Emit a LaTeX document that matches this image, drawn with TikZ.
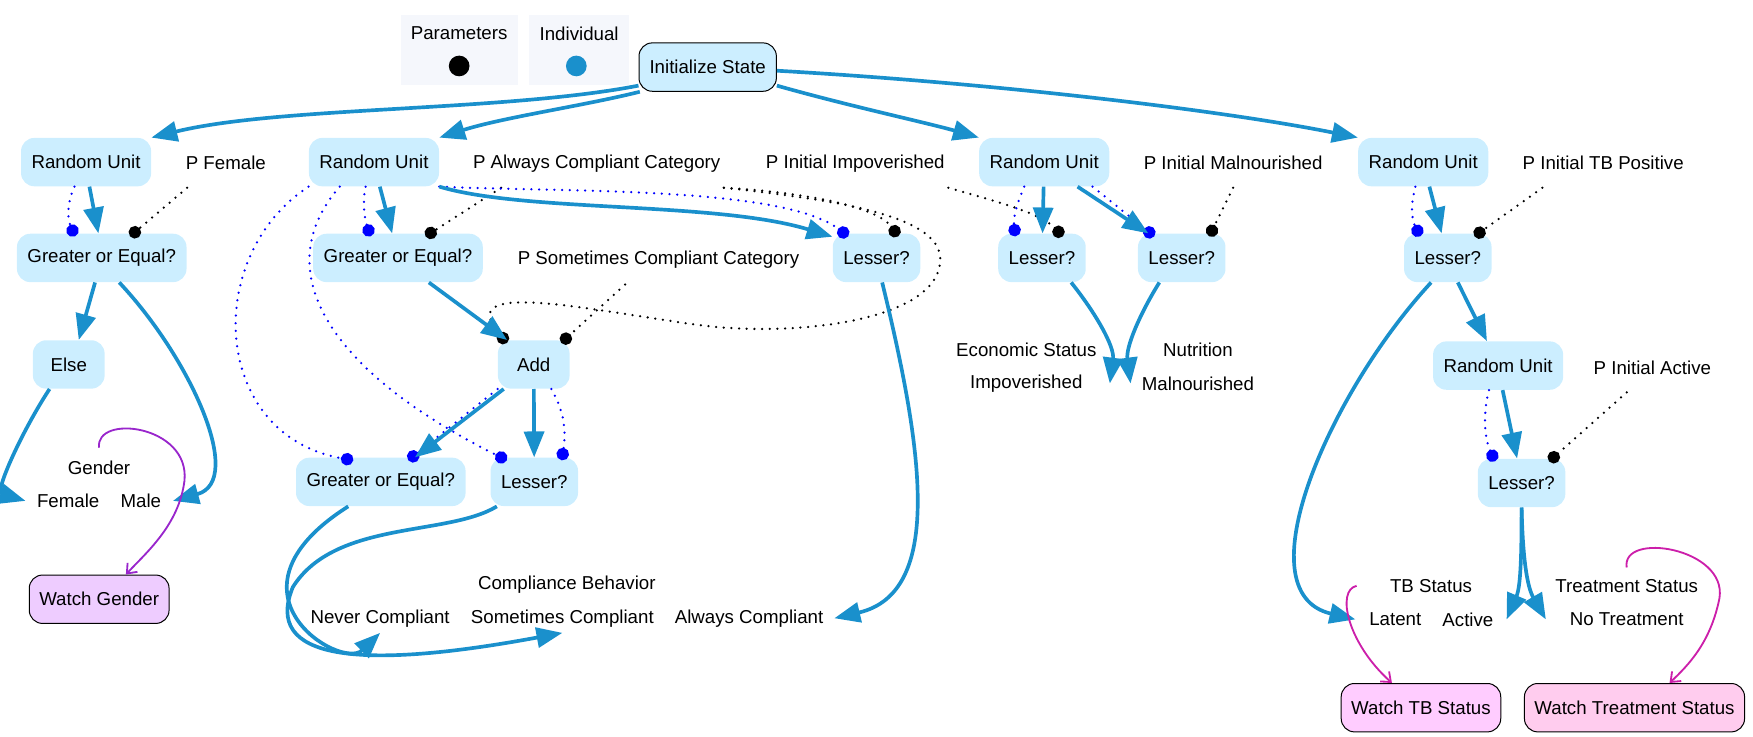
\documentclass[tikz,border=0pt]{standalone}
\usepackage{fontspec}
\setmainfont{Liberation Sans}
\usetikzlibrary{arrows.meta}
\definecolor{cellblue}{HTML}{CCEEFF}
\definecolor{flowblue}{HTML}{1A90CC}
\definecolor{portblue}{HTML}{0000FF}
\definecolor{legendbg}{HTML}{F5F7FC}
\definecolor{gendercol}{HTML}{9926CC}
\definecolor{watchcol}{HTML}{CC1FAA}
\definecolor{genderfill}{HTML}{EECCFF}
\definecolor{tbfill}{HTML}{FFCCFF}
\definecolor{treatfill}{HTML}{FFCCEE}
\tikzset{
  opbox/.style={rounded corners=8pt, fill=cellblue, inner xsep=6.3pt, minimum height=29pt, minimum width=43pt},
  plabel/.style={minimum height=29pt, inner xsep=2pt},
  watchbox/.style={rounded corners=8pt, draw=black, line width=0.6pt, inner xsep=6pt, minimum height=29pt},
  legendbox/.style={fill=legendbg, minimum height=42pt},
  legenddot/.style={circle, minimum size=12.4pt, inner sep=0pt},
  flow/.style={draw=flowblue, line width=2.2pt, -{Triangle[length=15.5pt,width=12pt]}},
  indiv/.style={draw=portblue, line width=1.5pt, line cap=round, dash pattern=on 0pt off 4.6pt, -{Circle[length=7.5pt]}},
  param/.style={indiv, draw=black},
  watchline/.style={line width=1.1pt, -{Straight Barb[length=5pt,width=8pt]}}
}
\begin{document}
\begin{tikzpicture}[x=0.67pt, y=-0.67pt, font=\fontsize{11.2}{13.4}\selectfont]
    \useasboundingbox (0,0) rectangle (1568,659);
    % legend
    \node[legendbox, minimum width=70pt] (parbox) at (410.7,45) {};
    \node (partext) at (410.7,30) {Parameters};
    \node[legenddot, fill=black] (pardot) at (410.7,59) {};
    \node[legendbox, minimum width=60pt] (indbox) at (518,45) {};
    \node (indtext) at (518,30) {Individual};
    \node[legenddot, fill=flowblue] (inddot) at (515.5,59) {};
    \node[opbox, draw=black, line width=0.6pt] (init) at (633,60) {Initialize State};
    % first row
    \node[opbox] (ru1) at (77,145) {Random Unit};
    \node[plabel] (pfemale) at (202,146) {P Female};
    \node[opbox] (ru2) at (334.5,145) {Random Unit};
    \node[plabel] (palways) at (533.7,146) {P Always Compliant Category};
    \node[plabel] (pimpov) at (765,146) {P Initial Impoverished};
    \node[opbox] (ru3) at (934,145) {Random Unit};
    \node[plabel] (pmaln) at (1103,146) {P Initial Malnourished};
    \node[opbox] (ru4) at (1273,145) {Random Unit};
    \node[plabel] (ptbpos) at (1434,146) {P Initial TB Positive};
    % comparisons
    \node[opbox] (ge1) at (91,230.7) {Greater or Equal?};
    \node[opbox] (ge2) at (356,230.7) {Greater or Equal?};
    \node[plabel] (psometimes) at (589,232.6) {P Sometimes Compliant Category};
    \node[opbox] (lessa) at (784,230.7) {Lesser?};
    \node[opbox] (lessb) at (932,230.7) {Lesser?};
    \node[opbox] (lessc) at (1057,230.7) {Lesser?};
    \node[opbox] (lessd) at (1295,230.7) {Lesser?};
    \node[opbox] (elsebox) at (61.5,326) {Else};
    \node[opbox] (add) at (477.4,326) {Add};
    \node (econ) at (918,313) {Economic Status};
    \node (impov) at (918,343) {Impoverished};
    \node (nutr) at (1071.5,313) {Nutrition};
    \node (maln) at (1071.5,343) {Malnourished};
    \node[opbox] (ru5) at (1340,327) {Random Unit};
    \node[plabel] (pactive) at (1478,329) {P Initial Active};
    \node (gender) at (88.6,418.6) {Gender};
    \node (female) at (61,448) {Female};
    \node (male) at (126,448) {Male};
    \node[opbox] (ge3) at (340.6,431) {Greater or Equal?};
    \node[opbox] (lessf) at (477.9,431) {Lesser?};
    \node[opbox] (lesse) at (1361,432) {Lesser?};
    % outputs
    \node[watchbox, fill=genderfill] (watchgender) at (88.7,536) {Watch Gender};
    \node (compl) at (507,523) {Compliance Behavior};
    \node (never) at (340,553) {Never Compliant};
    \node (sometimes) at (503,553) {Sometimes Compliant};
    \node (always) at (670,553) {Always Compliant};
    \node (tbstat) at (1280,524) {TB Status};
    \node (latent) at (1248,554) {Latent};
    \node (active) at (1313,554) {Active};
    \node (treatstat) at (1455,524) {Treatment Status};
    \node (notreat) at (1455,554) {No Treatment};
    \node[watchbox, fill=tbfill] (watchtb) at (1271,633) {Watch TB Status};
    \node[watchbox, fill=treatfill] (watchtreat) at (1462,633) {Watch Treatment Status};
    % parameter inputs
    \draw[param] ([xshift=3pt]pfemale.south west) -- ([xshift=17pt,yshift=-1.75pt]ge1.north);
    \draw[param] ([xshift=19pt]palways.south west) -- ([xshift=16.5pt,yshift=-1.75pt]ge2.north);
    \draw[param] (palways.south east) .. controls (720,172) and (785,185) .. ([xshift=13pt,yshift=-1.75pt]lessa.north);
    \draw[param] (palways.south east) .. controls (760,180) and (845,195) .. (841,235) .. controls (835,290) and (700,302) .. (620,290) .. controls (520,276) and (405,250) .. ([xshift=-16pt,yshift=-1.75pt]add.north);
    \draw[param] ([xshift=-20pt]psometimes.south) -- ([xshift=16.5pt,yshift=-1.75pt]add.north);
    \draw[param] (pimpov.south east) .. controls (890,180) and (930,190) .. ([xshift=12.5pt,yshift=-1.75pt]lessb.north);
    \draw[param] (pmaln.south) -- ([xshift=16.5pt,yshift=-1.75pt]lessc.north);
    \draw[param] ([xshift=14pt]ptbpos.south west) -- ([xshift=16pt,yshift=-1.75pt]lessd.north);
    \draw[param] ([xshift=22pt]pactive.south west) -- ([xshift=16.5pt,yshift=-1.75pt]lesse.north);
    % individual inputs
    \draw[indiv] ([xshift=-7pt]ru1.south) .. controls (60,182) and (60,195) .. ([xshift=-16pt,yshift=-1.75pt]ge1.north);
    \draw[indiv] ([xshift=-5pt]ru2.south) .. controls (324,182) and (326,195) .. ([xshift=-16.5pt,yshift=-1.75pt]ge2.north);
    \draw[indiv] (ru2.south east) .. controls (500,172) and (700,166) .. ([xshift=-17pt,yshift=-1.75pt]lessa.north);
    \draw[indiv] (ru2.south west) .. controls (180,230) and (190,390) .. ([xshift=-16.5pt,yshift=-1.75pt]ge3.north);
    \draw[indiv] ([xshift=-20.5pt]ru2.south) .. controls (240,240) and (290,330) .. ([xshift=-16.5pt,yshift=-1.75pt]lessf.north);
    \draw[indiv] (add.south west) -- ([xshift=16.5pt,yshift=-1.75pt]ge3.north);
    \draw[indiv] ([xshift=10.5pt]add.south) .. controls (506,370) and (506,388) .. ([xshift=16.5pt,yshift=-1.75pt]lessf.north);
    \draw[indiv] ([xshift=-12pt]ru3.south) .. controls (911,180) and (906,192) .. ([xshift=-16pt,yshift=-1.75pt]lessb.north);
    \draw[indiv] ([xshift=29pt]ru3.south) -- ([xshift=-16.5pt,yshift=-1.75pt]lessc.north);
    \draw[indiv] ([xshift=-4.7pt]ru4.south) .. controls (1262,182) and (1262,195) .. ([xshift=-16.5pt,yshift=-1.75pt]lessd.north);
    \draw[indiv] ([xshift=-5.4pt]ru5.south) .. controls (1326,370) and (1328,392) .. ([xshift=-16pt,yshift=-1.75pt]lesse.north);
    % flow
    \draw[flow] (init.195) .. controls (450,100) and (250,95) .. (ru1.north east);
    \draw[flow] (init.200) .. controls (520,95) and (450,105) .. (ru2.north east);
    \draw[flow] (init.345) .. controls (760,95) and (830,110) .. (ru3.north west);
    \draw[flow] (init.357) .. controls (900,75) and (1100,100) .. (ru4.north west);
    \draw[flow] ([xshift=2pt]ru1.south) -- ([xshift=-2pt]ge1.north);
    \draw[flow] ([xshift=-4pt]ge1.south) -- ([xshift=6pt]elsebox.north);
    \draw[flow] ([xshift=10.5pt]ge1.south) .. controls (170,320) and (220,430) .. ([xshift=3.6pt]male.east);
    \draw[flow] ([xshift=-11.5pt]elsebox.south) .. controls (20,385) and (-5,440) .. ([xshift=-3.4pt]female.west);
    \draw[flow] ([xshift=3.5pt]ru2.south) -- ([xshift=-3.5pt]ge2.north);
    \draw[flow] (ru2.south east) .. controls (470,190) and (640,180) .. ([yshift=-2pt]lessa.north west);
    \draw[flow] ([xshift=18.5pt]ge2.south) -- ([xshift=-16pt]add.north);
    \draw[flow] ([xshift=-18pt]add.south) -- ([xshift=20.5pt]ge3.north);
    \draw[flow] (add) -- (lessf);
    \draw[flow] ([xshift=-19.5pt]ge3.south) .. controls (190,530) and (305,600) .. (never.south);
    \draw[flow] ([xshift=4pt]lessf.south west) .. controls (400,480) and (300,465) .. (262,525) .. controls (235,590) and (320,600) .. (sometimes.south);
    \draw[flow] ([xshift=3.4pt]lessa.south) .. controls (825,400) and (845,530) .. ([xshift=3.1pt]always.east);
    \draw[flow] (ru3) -- (lessb);
    \draw[flow] ([xshift=20pt]ru3.south) -- ([xshift=-20pt]lessc.north);
    \draw[flow] ([xshift=17.5pt]lessb.south) .. controls (980,280) and (997,310) .. ([xshift=12.9pt]impov.east);
    \draw[flow] ([xshift=-13.4pt]lessc.south) .. controls (1020,280) and (1007,310) .. ([xshift=-3.2pt]maln.west);
    \draw[flow] ([xshift=3.7pt]ru4.south) -- ([xshift=-3.7pt]lessd.north);
    \draw[flow] ([xshift=6pt]lessd.south) -- ([xshift=-6.7pt]ru5.north);
    \draw[flow] ([xshift=-10pt]lessd.south) .. controls (1190,350) and (1110,530) .. ([xshift=-4.8pt]latent.west);
    \draw[flow] ([xshift=2.7pt]ru5.south) -- ([xshift=-2.7pt]lesse.north);
    \draw[flow] (lesse.south) .. controls (1361,500) and (1360,525) .. ([xshift=4.4pt]active.east);
    \draw[flow] (lesse.south) .. controls (1362,500) and (1366,525) .. ([xshift=-10.9pt]notreat.west);
    % watches
    \draw[watchline, draw=gendercol] ([yshift=4.5pt]gender.north) .. controls (85,370) and (170,380) .. (165,430) .. controls (160,470) and (130,495) .. ([xshift=16pt]watchgender.north);
    \draw[watchline, draw=watchcol] ([xshift=-16.5pt]tbstat.west) .. controls (1195,528) and (1205,575) .. ([xshift=-17.4pt]watchtb.north);
    \draw[watchline, draw=watchcol] ([yshift=3.5pt]treatstat.north) .. controls (1450,475) and (1545,490) .. (1538,535) .. controls (1530,575) and (1510,595) .. ([xshift=21pt]watchtreat.north);
\end{tikzpicture}
\end{document}
